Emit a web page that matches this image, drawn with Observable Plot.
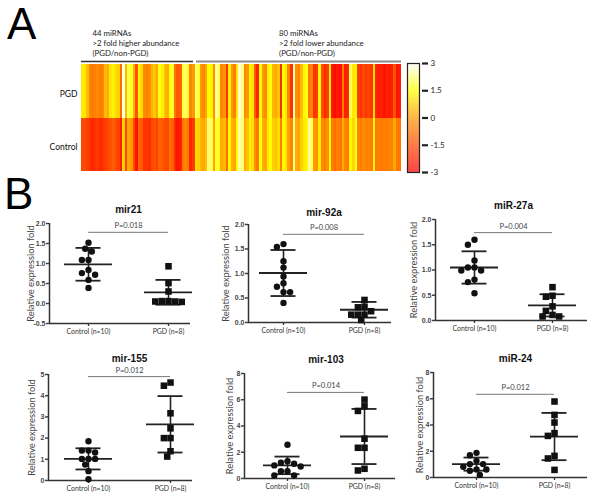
<!DOCTYPE html>
<html><head><meta charset="utf-8">
<script src="https://cdn.jsdelivr.net/npm/d3@7"></script>
<script src="https://cdn.jsdelivr.net/npm/@observablehq/plot@0.6"></script>
<style>
body{margin:0;background:#fff;}
#fig{position:relative;width:603px;height:498px;overflow:hidden;background:#fff;font-family:Lato,"Open Sans",sans-serif;}
#fig svg{position:absolute;}
.letter{position:absolute;font-family:"Liberation Sans",Arial,sans-serif;font-size:44px;line-height:1;color:#000;}
</style></head><body><div id="fig"></div>
<script>
// ---------------- Panel A data ----------------
const heatRows = ["PGD", "Control"];
const groupLabels = ["44 miRNAs\n>2 fold higher abundance\n(PGD/non-PGD)", "80 miRNAs\n>2 fold lower abundance\n(PGD/non-PGD)"];
const groupSizes = [44, 80];
const pgdValues = [
 1.2,1.1,0.5,-0.4,-0.6,-0.5,-0.3,-0.6,-0.4,0.5,0.3,1.1,1.3,1.0,0.8,-0.9,2.8,0.5,1.9,1.7,0.4,-1.4,1.3,1.0,-0.3,-0.5,-0.2,0.4,0.7,0.2,1.6,1.3,0.6,0.3,1.5,1.8,-0.7,-1.3,-1.1,1.9,2.1,1.7,-0.4,0.0,
 2.2,1.8,0.0,-0.3,0.1,1.5,1.3,-0.2,2.4,2.0,-0.4,-0.1,-2.0,1.3,0.0,-0.5,1.2,2.7,2.3,-0.3,-0.1,1.4,1.1,-1.2,-2.3,1.5,0.0,-0.3,1.3,1.6,0.4,0.2,0.7,-2.2,1.5,1.2,-0.4,-2.1,2.6,-0.2,-0.5,0.5,1.4,1.7,-0.6,-0.3,-2.0,-1.8,1.4,-1.5,-2.2,-1.8,1.3,-2.6,-2.8,-2.5,-2.7,-0.5,-2.4,-2.2,2.0,1.2,1.3,-1.8,-2.0,-1.6,-1.9,-1.7,-2.0,1.0,-2.3,-2.5,-2.4,-2.6,-2.3,-2.5,-2.4,-1.3,-2.7,-2.5
];
const controlValues = [
 -1.6,-1.5,-1.8,-2.0,-2.2,-2.1,-1.9,-2.2,-2.0,-1.8,-1.6,-1.4,-1.2,-1.5,-1.7,-2.4,0.8,-1.6,0.2,0.0,-1.5,-2.6,-1.0,-1.2,-2.0,-1.9,-2.1,-1.6,-1.4,-1.7,-1.0,-1.3,-1.5,-1.6,-0.8,-1.0,-2.2,-2.6,-2.4,-0.6,-0.4,-0.7,-2.3,-1.9,
 1.0,0.8,0.4,0.2,0.5,2.2,2.0,0.2,1.8,1.6,0.3,0.5,-0.8,1.4,0.4,0.2,1.5,2.5,2.2,0.3,0.6,1.3,1.0,-0.2,-0.6,1.6,0.3,0.2,1.2,1.5,0.8,0.6,1.0,-0.5,1.4,1.1,0.1,-0.4,2.4,0.3,0.1,0.8,1.2,1.4,2.4,2.0,0.0,-0.2,1.2,-0.3,-0.5,-0.2,1.5,-0.6,-0.8,-0.5,-0.7,0.3,-0.4,-0.6,1.4,0.9,1.6,-0.4,-0.6,-0.3,-0.5,-0.4,-0.6,1.4,-0.6,-0.5,-0.7,-0.5,-0.6,-0.4,-0.5,0.2,-0.6,-0.7
];
const colorTicks = [3, 1.5, 0, -1.5, -3];
const colorStops = ["#ff0000", "#ff4c00", "#ff9a00", "#ffff00", "#ffffff"];

// ---------------- Panel B data ----------------
const groups = ["Control (n=10)", "PGD (n=8)"];
const titles = ["mir21", "mir-92a", "miR-27a", "mir-155", "mir-103", "miR-24"];
const pLabels = ["P=0.018", "P=0.008", "P=0.004", "P=0.012", "P=0.014", "P=0.012"];
const bracketY = [1.78, 1.80, 1.74, 4.9, 6.56, 6.34];
const yTicks = [
  [-0.5, 0, 0.5, 1, 1.5, 2], [0, 0.5, 1, 1.5, 2], [0, 0.5, 1, 1.5, 2],
  [0, 1, 2, 3, 4, 5], [0, 2, 4, 6, 8], [0, 2, 4, 6, 8]
];
const controlPts = [
  [1.52, 1.37, 1.30, 1.09, 1.09, 0.84, 0.76, 0.72, 0.59, 0.39],
  [1.60, 1.54, 1.25, 1.12, 0.94, 0.80, 0.73, 0.62, 0.62, 0.40],
  [1.60, 1.50, 1.19, 1.05, 1.05, 0.99, 0.99, 0.81, 0.76, 0.54],
  [1.85, 1.41, 1.41, 1.32, 1.02, 1.02, 1.02, 0.75, 0.44, 0.06],
  [2.57, 1.32, 1.20, 1.12, 1.00, 0.92, 0.56, 0.56, 0.23, 0.23],
  [1.88, 1.70, 1.27, 1.02, 1.02, 0.81, 0.61, 0.61, 0.51, 0.20]
];
const pgdPts = [
  [0.93, 0.51, 0.30, 0.05, 0.06, 0.04, 0.06, 0.05],
  [0.46, 0.31, 0.32, 0.23, 0.16, 0.16, 0.16, 0.05],
  [0.66, 0.49, 0.47, 0.28, 0.19, 0.11, 0.08, 0.08],
  [4.62, 4.47, 3.17, 2.46, 2.00, 2.00, 1.38, 1.13],
  [6.01, 5.50, 5.15, 3.03, 2.34, 2.34, 0.74, 0.61],
  [5.79, 4.77, 4.19, 3.38, 3.17, 1.65, 1.45, 0.58]
];
const means = [[0.98, 0.28], [1.01, 0.26], [1.05, 0.30], [1.02, 2.65], [1.0, 3.2], [1.02, 3.12]];
const sds = [[0.41, 0.31], [0.47, 0.16], [0.32, 0.22], [0.5, 1.33], [0.67, 2.1], [0.5, 1.8]];

// ---------------- layout ----------------
const fig = document.getElementById("fig");
function place(svg, x, y) { svg.style.left = x + "px"; svg.style.top = y + "px"; fig.appendChild(svg); }
function letter(t, x, y) { const d = document.createElement("div"); d.className = "letter"; d.textContent = t; d.style.left = x + "px"; d.style.top = y + "px"; fig.appendChild(d); }

const FONT = "Lato, 'Open Sans', sans-serif";
const ARIAL = "'Liberation Sans', Arial, sans-serif";

// Heatmap
const cells = [];
[pgdValues, controlValues].forEach((vals, r) => vals.forEach((v, i) => cells.push({row: heatRows[r], r: heatRows.length - 1 - r, i, v})));
const nCols = pgdValues.length;
const groupInfo = groupSizes.map((n, g) => ({g, start: d3.sum(groupSizes.slice(0, g)), end: d3.sum(groupSizes.slice(0, g + 1)), label: groupLabels[g]}));
const colorScale = {type: "linear", domain: [-3, -1.5, 0, 1.5, 3], range: colorStops, interpolate: "rgb"};

const heat = Plot.plot({
  width: 405, height: 180,
  marginLeft: 81, marginRight: 4, marginTop: 64, marginBottom: 9,
  x: {domain: [0, nCols], axis: null},
  y: {domain: [0, heatRows.length], axis: null},
  color: colorScale,
  style: {background: "transparent", overflow: "visible", fontFamily: FONT},
  marks: [
    Plot.rect(cells, {x1: "i", x2: d => d.i + 1, y1: "r", y2: d => d.r + 1, fill: "v", shapeRendering: "crispEdges"}),
    Plot.ruleY(groupInfo.filter(d => d.g === 0), {x1: "start", x2: "end", y: () => heatRows.length, dy: -3, insetRight: 1.5, stroke: "#333", strokeWidth: 1.6}),
    Plot.ruleY(groupInfo.filter(d => d.g === 1), {x1: "start", x2: "end", y: () => heatRows.length, dy: -3, insetLeft: 1.5, stroke: "#8a8a8a", strokeWidth: 1.8}),
    Plot.text(groupInfo.filter(d => d.g === 0), {x: "start", y: () => heatRows.length, text: "label", dx: 11, dy: -9, lineAnchor: "bottom", textAnchor: "start", lineHeight: 1.28, fontSize: 7.8, fill: "#222"}),
    Plot.text(groupInfo.filter(d => d.g === 1), {x: "start", y: () => heatRows.length, text: "label", dx: 84, dy: -9, lineAnchor: "bottom", textAnchor: "start", lineHeight: 1.28, fontSize: 7.8, fill: "#222"}),
    Plot.text(heatRows, {x: () => 0, y: (d, i) => heatRows.length - 1 - i + 0.5, text: d => d, dx: -4, dy: 3, textAnchor: "end", fontSize: 8.5, fill: "#111"})
  ]
});
place(heat, 0, 0);

// Colorbar
const steps = d3.range(-3, 3, 0.02).map(v => ({y1: v, y2: v + 0.021, v: v + 0.01}));
const cbar = Plot.plot({
  width: 60, height: 145,
  marginLeft: 7, marginRight: 41, marginTop: 23, marginBottom: 13,
  y: {domain: [-3, 3]},
  color: colorScale,
  style: {background: "transparent", overflow: "visible", fontFamily: FONT},
  marks: [
    Plot.rect(steps, {y1: "y1", y2: "y2", fill: "v"}),
    Plot.frame({stroke: "#222", strokeWidth: 1.2}),
    Plot.axisY({anchor: "right", ticks: colorTicks, tickFormat: d => String(d), tickSize: 6, tickPadding: 3, dx: 2, strokeWidth: 2.2, fontSize: 8, color: "#222", label: null})
  ]
});
place(cbar, 400, 40);

letter("A", 7, 2);
letter("B", 4, 172);

// Scatter panels
const layouts = [
  {bx: 0,   by: 180, w: 200, h: 160, left: 49,  right: 190, top: 223, bottom: 323, g0: 88,  g1: 168, labelX: 31,  titleDy: -14},
  {bx: 200, by: 180, w: 200, h: 160, left: 248, right: 391, top: 224, bottom: 322, g0: 283, g1: 364, labelX: 226, titleDy: -12},
  {bx: 400, by: 180, w: 203, h: 160, left: 435, right: 587, top: 219, bottom: 320, g0: 474, g1: 552, labelX: 414, titleDy: -14},
  {bx: 0,   by: 340, w: 200, h: 158, left: 48,  right: 192, top: 374, bottom: 480, g0: 88,  g1: 170, labelX: 32,  titleDy: -16},
  {bx: 200, by: 340, w: 200, h: 158, left: 244, right: 395, top: 373, bottom: 478, g0: 287, g1: 364, labelX: 230, titleDy: -14},
  {bx: 400, by: 340, w: 203, h: 158, left: 433, right: 587, top: 372, bottom: 477, g0: 476, g1: 554, labelX: 420, titleDy: -14}
];

function swarm(values, pxPerUnit, diam) {
  const order = d3.range(values.length).sort((a, b) => values[b] - values[a]);
  const placed = [], off = new Array(values.length).fill(0);
  const cands = [0];
  for (let k = 1; k <= 10; k++) cands.push(-k * diam / 2, k * diam / 2);
  for (const i of order) {
    const y = values[i] * pxPerUnit;
    for (const c of cands) {
      if (placed.every(p => Math.hypot(p.x - c, p.y - y) >= diam * 0.92)) { off[i] = c; placed.push({x: c, y}); break; }
    }
  }
  return off;
}

layouts.forEach((L, k) => {
  const [yMin, yMax] = d3.extent(yTicks[k]);
  const pyu = (L.bottom - L.top) / (yMax - yMin);
  const pxu = L.g1 - L.g0;
  const xDom = [(L.left - L.g0) / pxu, 1 + (L.right - L.g1) / pxu];
  const pts = [];
  [controlPts[k], pgdPts[k]].forEach((vals, g) => {
    const off = swarm(vals, pyu, 6.6);
    vals.forEach((v, i) => pts.push({g, x: g + off[i] / pxu, v}));
  });
  const stats = [0, 1].map(g => ({g, mean: means[k][g], sd: sds[k][g]}));
  const mhw = 24 / pxu, shw = 12.5 / pxu;
  const fmt = yTicks[k].some(t => !Number.isInteger(t)) ? (d => d.toFixed(1)) : (d => String(d));
  const svg = Plot.plot({
    width: L.w, height: L.h,
    marginLeft: L.left - L.bx, marginRight: L.bx + L.w - L.right, marginTop: L.top - L.by, marginBottom: L.by + L.h - L.bottom,
    x: {domain: xDom},
    y: {domain: [yMin, yMax]},
    style: {background: "transparent", overflow: "visible", fontFamily: FONT},
    marks: [
      Plot.axisY({ticks: yTicks[k], tickFormat: fmt, tickSize: 3, tickPadding: 1, strokeWidth: 1.5, fontSize: 7, fontWeight: "bold", fontFamily: ARIAL, color: "#444", label: null}),
      Plot.axisX({ticks: [0, 1], tickFormat: i => groups[i], tickSize: 3, tickPadding: 3, strokeWidth: 1.3, fontSize: 6.9, color: "#333", label: null}),
      Plot.ruleY([yMin], {stroke: "#333", strokeWidth: 1.5}),
      Plot.ruleX([xDom[0]], {stroke: "#333", strokeWidth: 1.5}),
      Plot.text(["Relative expression fold"], {frameAnchor: "left", textAnchor: "middle", lineAnchor: "middle", dx: L.labelX - L.left, rotate: -90, fontSize: 9.3, fill: "#444"}),
      Plot.text([titles[k]], {x: () => 0.5, frameAnchor: "top", lineAnchor: "middle", dy: L.titleDy, fontSize: 10, fontWeight: "bold", fontFamily: ARIAL, fill: "#111"}),
      Plot.ruleY([bracketY[k]], {x1: 0, x2: 1, stroke: "#777", strokeWidth: 1}),
      Plot.text([pLabels[k]], {x: () => 0.5, y: () => bracketY[k], dy: -6.5, lineAnchor: "middle", fontSize: 7.5, fill: "#444"}),
      Plot.ruleX(stats, {x: "g", y1: d => d.mean - d.sd, y2: d => d.mean + d.sd, stroke: "#222", strokeWidth: 1.6}),
      Plot.ruleY(stats, {x1: d => d.g - mhw, x2: d => d.g + mhw, y: "mean", stroke: "#222", strokeWidth: 1.8}),
      Plot.ruleY(stats, {x1: d => d.g - shw, x2: d => d.g + shw, y: d => d.mean + d.sd, stroke: "#222", strokeWidth: 1.8}),
      Plot.ruleY(stats, {x1: d => d.g - shw, x2: d => d.g + shw, y: d => d.mean - d.sd, stroke: "#222", strokeWidth: 1.8}),
      Plot.dot(pts.filter(d => d.g === 0), {x: "x", y: "v", symbol: "circle", fill: "#111", r: 3.2}),
      Plot.dot(pts.filter(d => d.g === 1), {x: "x", y: "v", symbol: "square", fill: "#111", r: 3.7})
    ]
  });
  place(svg, L.bx, L.by);
});
</script></body></html>
